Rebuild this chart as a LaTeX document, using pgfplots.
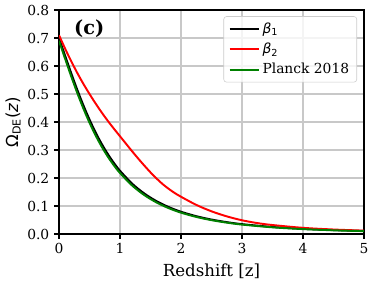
\documentclass[border=0pt]{standalone}
\usepackage{fontspec}
\setmainfont{DejaVu Serif}
\newfontfamily\dvs{DejaVu Sans}
\usepackage{pgfplots}
\pgfplotsset{compat=1.18}
\definecolor{gridc}{RGB}{200,200,200}
\definecolor{mplgreen}{RGB}{0,128,0}
\definecolor{legframe}{RGB}{204,204,204}

\pgfplotstableread{
z omega
0.0 0.700
0.1 0.6368
0.2 0.5745
0.3 0.5150
0.4 0.4596
0.5 0.4088
0.6 0.3629
0.7 0.3220
0.8 0.2858
0.9 0.2538
1.0 0.2258
1.2 0.1797
1.4 0.1444
1.6 0.1172
1.8 0.0961
2.0 0.0795
2.25 0.0636
2.5 0.0516
2.75 0.0424
3.0 0.0352
3.5 0.0250
4.0 0.0183
4.5 0.0138
5.0 0.0107
}\betaone

\pgfplotstableread{
z omega
0.0 0.710
0.1 0.662
0.2 0.617
0.3 0.575
0.4 0.536
0.5 0.500
0.6 0.466
0.7 0.434
0.8 0.404
0.9 0.376
1.0 0.349
1.1 0.322
1.2 0.295
1.3 0.269
1.4 0.244
1.5 0.220
1.6 0.198
1.7 0.178
1.8 0.161
1.9 0.146
2.0 0.133
2.25 0.104
2.5 0.081
2.75 0.063
3.0 0.049
3.25 0.039
3.5 0.032
4.0 0.022
4.5 0.016
5.0 0.012
}\betatwo

\pgfplotstableread{
z omega
0.0 0.690
0.1 0.6258
0.2 0.5630
0.3 0.5032
0.4 0.4479
0.5 0.3974
0.6 0.3521
0.7 0.3118
0.8 0.2762
0.9 0.2450
1.0 0.2177
1.2 0.1729
1.4 0.1387
1.6 0.1124
1.8 0.0921
2.0 0.0762
2.25 0.0609
2.5 0.0494
2.75 0.0405
3.0 0.0336
3.5 0.0238
4.0 0.0175
4.5 0.0132
5.0 0.0102
}\planck

\begin{document}
\begin{tikzpicture}
\begin{axis}[
  name=ax,
  scale only axis,
  width=219.6bp, height=161.3bp,
  xmin=0, xmax=5, ymin=0, ymax=0.8,
  xtick={0,1,2,3,4,5},
  ytick={0,0.1,0.2,0.3,0.4,0.5,0.6,0.7,0.8},
  yticklabel style={/pgf/number format/.cd, fixed, fixed zerofill, precision=1},
  /pgf/number format/assume math mode=true,
  ticklabel style={font=\fontsize{10}{12}\selectfont},
  tick align=outside,
  tick pos=left,
  major tick length=3.5pt,
  tick style={black, line width=0.8pt},
  axis line style={line width=1pt},
  grid=major,
  major grid style={gridc, line width=0.8pt},
  xlabel={Redshift [z]},
  ylabel={{\dvs Ω\textsubscript{DE}(\textit{z})}},
  label style={font=\fontsize{12}{14}\selectfont},
  xlabel style={yshift=0bp},
  ylabel style={yshift=-2bp},
  legend cell align=left,
  legend style={at={(1,1)}, anchor=north east, xshift=-5bp, yshift=-4.5bp,
    draw=legframe, rounded corners=2pt, fill=white, fill opacity=0.8, text opacity=1,
    font=\fontsize{10}{12}\selectfont, row sep=1.5bp, inner xsep=3.5pt, inner ysep=2.5pt},
  legend image code/.code={\draw[#1, line width=1.5pt] (0pt,0pt) -- (21pt,0pt);},
  every axis plot/.append style={line width=1.4pt},
]
\addplot[black, smooth] table[x=z, y=omega] {\betaone};
\addlegendentry{{\dvs\textit{β}\textsubscript{1}}}
\addplot[red, smooth] table[x=z, y=omega] {\betatwo};
\addlegendentry{{\dvs\textit{β}\textsubscript{2}}}
\addplot[mplgreen, smooth] table[x=z, y=omega] {\planck};
\addlegendentry{Planck 2018}
\node[font=\bfseries\fontsize{14}{16}\selectfont, anchor=west, inner sep=0pt] at (rel axis cs:0.049,0.915) {(c)};
\end{axis}
\path ([xshift=-42.5bp,yshift=-36.7bp]ax.south west) rectangle ([xshift=6.5bp,yshift=7.2bp]ax.north east);
\end{tikzpicture}
\end{document}
